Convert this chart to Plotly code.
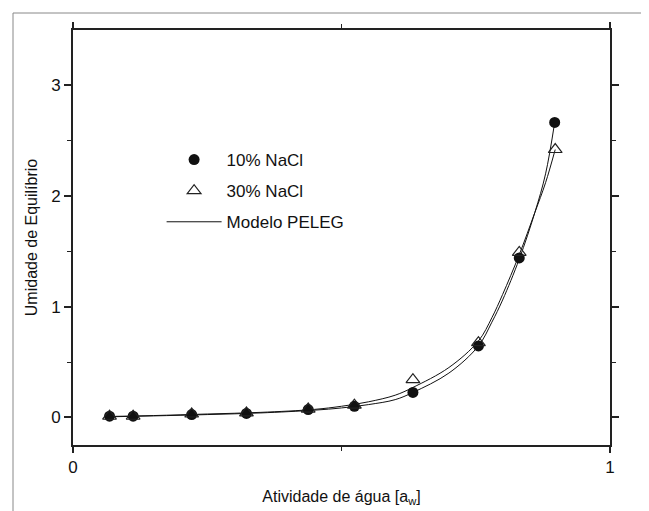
import plotly.graph_objects as go

# ---- data ----
aw_10 = [0.068, 0.112, 0.221, 0.323, 0.438, 0.524, 0.633, 0.755, 0.831, 0.897]
m_10 = [0.010, 0.010, 0.025, 0.035, 0.070, 0.100, 0.225, 0.645, 1.440, 2.665]

aw_30 = [0.068, 0.112, 0.221, 0.323, 0.438, 0.524, 0.633, 0.755, 0.831, 0.898]
m_30 = [0.010, 0.010, 0.030, 0.040, 0.075, 0.110, 0.340, 0.675, 1.490, 2.420]

# PELEG model curves
fit_aw_10 = [0.068, 0.15, 0.25, 0.35, 0.45, 0.50, 0.55, 0.60, 0.633, 0.70, 0.755, 0.78, 0.80, 0.831, 0.86, 0.88, 0.897]
fit_m_10 = [0.005, 0.013, 0.025, 0.040, 0.065, 0.085, 0.115, 0.160, 0.225, 0.400, 0.645, 0.860, 1.060, 1.430, 1.850, 2.200, 2.665]

fit_aw_30 = [0.068, 0.15, 0.25, 0.35, 0.45, 0.50, 0.55, 0.60, 0.633, 0.70, 0.755, 0.78, 0.80, 0.831, 0.86, 0.88, 0.898]
fit_m_30 = [0.008, 0.016, 0.030, 0.045, 0.072, 0.100, 0.140, 0.200, 0.270, 0.450, 0.690, 0.900, 1.110, 1.470, 1.850, 2.120, 2.420]

x_ticks = [0, 1]
y_ticks = [0, 1, 2, 3]

FONT = "Liberation Sans, Arial, sans-serif"
AX = "#222222"

fig = go.Figure()

fig.add_trace(go.Scatter(x=fit_aw_10, y=fit_m_10, mode="lines", line=dict(color="#111", width=1, shape="spline"),
                         showlegend=False, hoverinfo="skip"))
fig.add_trace(go.Scatter(x=fit_aw_30, y=fit_m_30, mode="lines", line=dict(color="#111", width=1, shape="spline"),
                         showlegend=False, hoverinfo="skip"))
fig.add_trace(go.Scatter(x=aw_10, y=m_10, mode="markers", name="10% NaCl", legendgroup="a",
                         marker=dict(symbol="circle", size=11, color="#111", line=dict(width=0))))
fig.add_trace(go.Scatter(x=aw_30, y=m_30, mode="markers", name="30% NaCl", legendgroup="b",
                         marker=dict(symbol="triangle-up-open", size=12, color="#222", line=dict(width=1.2))))
fig.add_trace(go.Scatter(x=[None], y=[None], mode="lines", name="Modelo PELEG", legendgroup="c",
                         line=dict(color="#111", width=1)))

fig.update_layout(
    width=649, height=511,
    margin=dict(l=65, r=47, t=22, b=74),
    paper_bgcolor="white", plot_bgcolor="white",
    font=dict(family=FONT, size=16, color="#111"),
    showlegend=True,
    legend=dict(x=0.165, y=0.612, xanchor="left", yanchor="middle", bgcolor="rgba(0,0,0,0)",
                font=dict(size=17), tracegroupgap=6, itemwidth=55),
    xaxis=dict(range=[0, 1], tickvals=x_ticks, ticktext=[str(v) for v in x_ticks],
               ticks="outside", ticklen=6, tickwidth=1.5, tickcolor=AX,
               showline=True, linecolor=AX, linewidth=2, mirror="ticks",
               showgrid=False, zeroline=False, tickfont=dict(size=17), automargin=False,
               minor=dict(tickvals=[0.5], ticks="outside", ticklen=4, tickcolor=AX, tickwidth=1.2),
               title=dict(text="Atividade de água [a<sub>w</sub>]", font=dict(size=16), standoff=14)),
    yaxis=dict(range=[-0.25, 3.5], tickvals=y_ticks, ticktext=[str(v) for v in y_ticks],
               ticks="outside", ticklen=7, tickwidth=1.5, tickcolor=AX,
               showline=True, linecolor=AX, linewidth=2, mirror="ticks",
               showgrid=False, zeroline=False, tickfont=dict(size=17), automargin=False,
               minor=dict(tickvals=[0.5, 1.5, 2.5], ticks="outside", ticklen=4, tickcolor=AX, tickwidth=1.2),
               title=dict(text="Umidade de Equilíbrio", font=dict(size=16), standoff=10)),
)

# outer frame around the whole figure
fig.add_shape(type="rect", xref="paper", yref="paper",
              x0=(5 - 65) / 537, x1=(644 - 65) / 537, y0=(437 - 509) / 415, y1=(437 - 5) / 415,
              line=dict(color="#888888", width=1), layer="below")

fig.write_html("out.html")
